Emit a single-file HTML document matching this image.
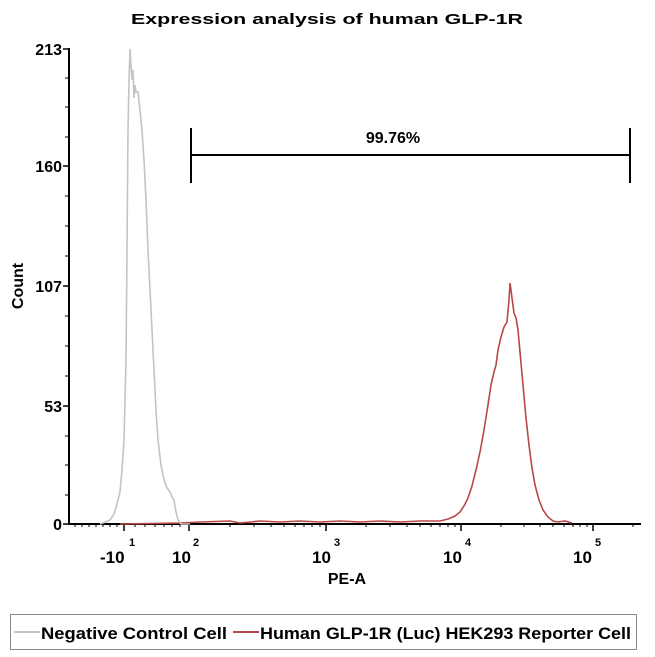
<!DOCTYPE html>
<html><head><meta charset="utf-8"><style>
body{margin:0;background:#fff;}
svg{display:block;font-family:"Liberation Sans",sans-serif;}
</style></head><body>
<svg width="655" height="657" viewBox="0 0 655 657" xmlns="http://www.w3.org/2000/svg">
<rect width="655" height="657" fill="#fff"/>
<text x="131" y="24" font-size="15" font-weight="bold" textLength="392" lengthAdjust="spacingAndGlyphs">Expression analysis of human GLP-1R</text>
<line x1="69" y1="48" x2="69" y2="525" stroke="#000" stroke-width="2"/>
<line x1="68" y1="524" x2="641" y2="524" stroke="#000" stroke-width="2"/>
<g stroke="#000" stroke-width="1.5">
<line x1="63" y1="49" x2="69" y2="49"/><line x1="63" y1="166" x2="69" y2="166"/>
<line x1="63" y1="286" x2="69" y2="286"/><line x1="63" y1="406" x2="69" y2="406"/>
<line x1="63" y1="524" x2="69" y2="524"/>
</g>
<g stroke="#000" stroke-width="1">
<line x1="65" y1="78" x2="69" y2="78"/><line x1="65" y1="107" x2="69" y2="107"/><line x1="65" y1="137" x2="69" y2="137"/>
<line x1="65" y1="196" x2="69" y2="196"/><line x1="65" y1="226" x2="69" y2="226"/><line x1="65" y1="256" x2="69" y2="256"/>
<line x1="65" y1="316" x2="69" y2="316"/><line x1="65" y1="346" x2="69" y2="346"/><line x1="65" y1="376" x2="69" y2="376"/>
<line x1="65" y1="436" x2="69" y2="436"/><line x1="65" y1="465" x2="69" y2="465"/><line x1="65" y1="495" x2="69" y2="495"/>
</g>
<g font-size="16" font-weight="bold" text-anchor="end">
<text x="62" y="55">213</text><text x="62" y="172">160</text><text x="62" y="292">107</text><text x="62" y="412">53</text><text x="62" y="530">0</text>
</g>
<text transform="translate(23,286) rotate(-90)" text-anchor="middle" font-size="16" font-weight="bold">Count</text>
<g stroke="#000" stroke-width="1.5">
<line x1="124" y1="524" x2="124" y2="531"/><line x1="189" y1="524" x2="189" y2="531"/>
<line x1="326" y1="524" x2="326" y2="531"/><line x1="461" y1="524" x2="461" y2="531"/><line x1="593" y1="524" x2="593" y2="531"/>
</g>
<g stroke="#000" stroke-width="1">
<line x1="75" y1="524" x2="75" y2="527"/><line x1="82" y1="524" x2="82" y2="527"/><line x1="89" y1="524" x2="89" y2="527"/><line x1="96" y1="524" x2="96" y2="527"/><line x1="103" y1="524" x2="103" y2="527"/><line x1="110" y1="524" x2="110" y2="527"/><line x1="117" y1="524" x2="117" y2="527"/>
<line x1="135" y1="524" x2="135" y2="527"/><line x1="145" y1="524" x2="145" y2="527"/><line x1="155" y1="524" x2="155" y2="527"/><line x1="164" y1="524" x2="164" y2="527"/><line x1="172" y1="524" x2="172" y2="527"/><line x1="180" y1="524" x2="180" y2="527"/>
<line x1="230" y1="524" x2="230" y2="527"/><line x1="254" y1="524" x2="254" y2="527"/><line x1="271" y1="524" x2="271" y2="527"/><line x1="284" y1="524" x2="284" y2="527"/><line x1="295" y1="524" x2="295" y2="527"/><line x1="304" y1="524" x2="304" y2="527"/><line x1="312" y1="524" x2="312" y2="527"/><line x1="320" y1="524" x2="320" y2="527"/>
<line x1="366" y1="524" x2="366" y2="527"/><line x1="390" y1="524" x2="390" y2="527"/><line x1="407" y1="524" x2="407" y2="527"/><line x1="420" y1="524" x2="420" y2="527"/><line x1="431" y1="524" x2="431" y2="527"/><line x1="440" y1="524" x2="440" y2="527"/><line x1="448" y1="524" x2="448" y2="527"/><line x1="455" y1="524" x2="455" y2="527"/>
<line x1="501" y1="524" x2="501" y2="527"/><line x1="524" y1="524" x2="524" y2="527"/><line x1="540" y1="524" x2="540" y2="527"/><line x1="553" y1="524" x2="553" y2="527"/><line x1="564" y1="524" x2="564" y2="527"/><line x1="573" y1="524" x2="573" y2="527"/><line x1="580" y1="524" x2="580" y2="527"/><line x1="587" y1="524" x2="587" y2="527"/>
<line x1="633" y1="524" x2="633" y2="527"/>
</g>
<g font-weight="bold">
<text x="100" y="563" font-size="17">-10</text><text x="129" y="546" font-size="11">1</text>
<text x="172" y="563" font-size="17">10</text><text x="193" y="546" font-size="11">2</text>
<text x="312" y="563" font-size="17">10</text><text x="334" y="546" font-size="11">3</text>
<text x="443" y="563" font-size="17">10</text><text x="465" y="546" font-size="11">4</text>
<text x="573" y="563" font-size="17">10</text><text x="595" y="546" font-size="11">5</text>
</g>
<text x="347" y="584" text-anchor="middle" font-size="16" font-weight="bold">PE-A</text>
<g stroke="#000" stroke-width="2">
<line x1="191" y1="155" x2="630" y2="155"/><line x1="191" y1="128" x2="191" y2="183"/><line x1="630" y1="128" x2="630" y2="183"/>
</g>
<text x="393" y="143" text-anchor="middle" font-size="16" font-weight="bold">99.76%</text>
<polyline fill="none" stroke="#b84848" stroke-width="1.6" points="120,524 180,523 200,522 230,521 240,523 260,521 280,522 300,521 320,522 340,521 360,522 380,521 400,522 420,521 440,521 448,519 455,516 460,512 464,506 468,498 472,486 476,470 480,452 484,430 488,405 491,385 494,372 496,365 498,350 501,337 504,327 507,322 509,300 510,283 511,290 512,298 514,313 516,318 518,330 520,352 523,385 526,418 529,445 532,468 535,485 539,500 543,510 548,517 553,521 558,522 565,521 572,523"/>
<polyline fill="none" stroke="#c4c4c4" stroke-width="1.6" points="100,524 106,522 110,520 114,514 117,504 120,492 122,470 124,440 126,360 127,250 128,130 129,80 130,49 131,65 132,80 133,70 134,98 135,85 136,92 138,92 140,110 142,130 144,160 146,200 148,250 150,290 152,330 154,370 156,410 158,440 161,465 164,480 167,488 170,492 172,497 174,500 176,512 178,520 181,524 190,524"/>
<rect x="10.5" y="614.5" width="626" height="35" fill="#fff" stroke="#888" stroke-width="1"/>
<line x1="14" y1="632" x2="40" y2="632" stroke="#c4c4c4" stroke-width="2"/>
<text x="41" y="639" font-size="17" font-weight="bold" textLength="186" lengthAdjust="spacingAndGlyphs">Negative Control Cell</text>
<line x1="233" y1="632" x2="259" y2="632" stroke="#b84848" stroke-width="2"/>
<text x="260" y="639" font-size="17" font-weight="bold" textLength="371" lengthAdjust="spacingAndGlyphs">Human GLP-1R (Luc) HEK293 Reporter Cell</text>
</svg>
</body></html>
